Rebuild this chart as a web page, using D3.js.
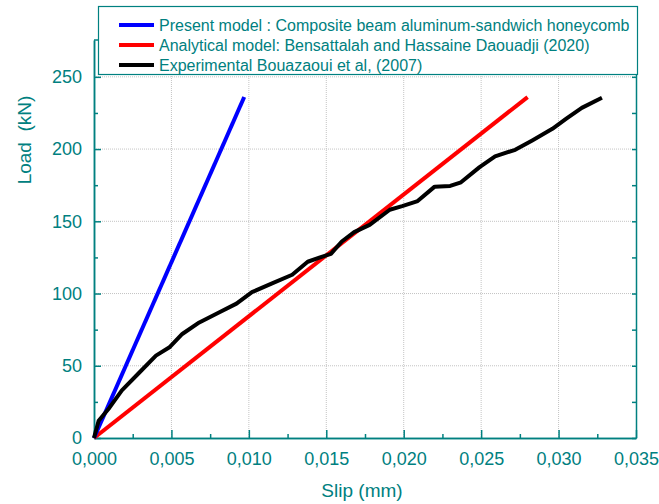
<!DOCTYPE html>
<html>
<head>
<meta charset="utf-8">
<script src="https://cdn.jsdelivr.net/npm/d3@7"></script>
<style>
  body { margin: 0; background: #fff; }
  text { font-family: "Liberation Sans", Arial, sans-serif; fill: #008080; }
</style>
</head>
<body>
<div class="chart"></div>
<script>
var svgWidth = 659;
var svgHeight = 504;

var margin = { top: 40, right: 23, bottom: 66, left: 94 };
var width = svgWidth - margin.left - margin.right;
var height = svgHeight - margin.top - margin.bottom;

var teal = "#008080";

// data
var seriesNames = [
  "Present model : Composite beam aluminum-sandwich honeycomb",
  "Analytical model: Bensattalah and Hassaine Daouadji (2020)",
  "Experimental Bouazaoui et al, (2007)"
];
var seriesColors = ["#0000ff", "#ff0000", "#000000"];

var presentSlip = [0, 0.0097];
var presentLoad = [0, 236];

var analyticalSlip = [0, 0.028];
var analyticalLoad = [0, 236];

var expSlip = [0, 0.0003, 0.001, 0.0018, 0.0029, 0.004, 0.0049, 0.0057, 0.0068, 0.0081,
  0.0092, 0.0102, 0.0115, 0.0128, 0.0138, 0.0146, 0.0153, 0.016, 0.0168, 0.0178,
  0.0191, 0.0199, 0.0209, 0.022, 0.023, 0.0237, 0.0249, 0.0259, 0.0272, 0.0283,
  0.0296, 0.0305, 0.0315, 0.0328];
var expLoad = [0, 12, 21, 33, 45, 57, 63, 72, 80, 87,
  93, 101, 107, 113, 122, 125, 127.5, 136, 142.5, 147.5,
  158, 160.5, 164, 174, 174.5, 177, 187.5, 195, 199.5, 206,
  214, 221, 228.5, 235.5];

var xTicks = [0, 0.005, 0.01, 0.015, 0.02, 0.025, 0.03, 0.035];
var yTicks = [0, 50, 100, 150, 200, 250];

function zip(xs, ys) {
  return xs.map(function(x, i) { return { x: x, y: ys[i] }; });
}
var series = [zip(presentSlip, presentLoad), zip(analyticalSlip, analyticalLoad), zip(expSlip, expLoad)];

var svg = d3.select(".chart").append("svg")
  .attr("width", svgWidth)
  .attr("height", svgHeight);

var chart = svg.append("g")
  .attr("transform", "translate(" + margin.left + "," + margin.top + ")");

var x = d3.scaleLinear().domain([0, 0.035]).range([0, width]);
var y = d3.scaleLinear().domain([0, 275.5]).range([height, 0]);

var fmt = function(d) { return d3.format(".3f")(d).replace(".", ","); };

// grid
chart.append("g").selectAll("line").data(xTicks.slice(1, -1)).enter().append("line")
  .attr("x1", function(d) { return x(d); }).attr("x2", function(d) { return x(d); })
  .attr("y1", 0).attr("y2", height)
  .attr("stroke", "#c4c4c4").attr("stroke-dasharray", "1,1");
chart.append("g").selectAll("line").data(yTicks.slice(1)).enter().append("line")
  .attr("y1", function(d) { return y(d); }).attr("y2", function(d) { return y(d); })
  .attr("x1", 0).attr("x2", width)
  .attr("stroke", "#c4c4c4").attr("stroke-dasharray", "1,1");

// minor ticks
var xMinor = d3.range(0.0025, 0.035, 0.005);
var yMinor = d3.range(25, 275, 50);

var bottomAxis = d3.axisBottom(x).tickValues(xTicks).tickFormat(fmt).tickSizeInner(-8).tickSizeOuter(0).tickPadding(14);
var bottomMinor = d3.axisBottom(x).tickValues(xMinor).tickFormat("").tickSizeInner(-4).tickSizeOuter(0);
var leftAxis = d3.axisLeft(y).tickValues(yTicks).tickSizeInner(-7).tickSizeOuter(0).tickPadding(12);
var leftMinor = d3.axisLeft(y).tickValues(yMinor).tickFormat("").tickSizeInner(-4).tickSizeOuter(0);
var rightAxis = d3.axisRight(y).tickValues(yTicks.concat(yMinor)).tickFormat("").tickSizeInner(-4).tickSizeOuter(0);

function styleAxis(g) {
  g.selectAll("path, line").attr("stroke", teal).attr("stroke-width", 1.5);
  g.selectAll("text").attr("fill", teal).style("font-size", "18px").attr("font-family", null);
}

chart.append("g").attr("transform", "translate(0," + height + ")").call(bottomAxis).call(styleAxis);
chart.append("g").attr("transform", "translate(0," + height + ")").call(bottomMinor).call(styleAxis);
chart.append("g").call(leftAxis).call(styleAxis);
chart.append("g").call(leftMinor).call(styleAxis);
chart.append("g").attr("transform", "translate(" + width + ",0)").call(rightAxis).call(styleAxis);
chart.append("line").attr("x1", 0).attr("x2", width).attr("y1", 0).attr("y2", 0)
  .attr("stroke", teal).attr("stroke-width", 1.5);

// lines
var line = d3.line().x(function(d) { return x(d.x); }).y(function(d) { return y(d.y); });
var drawOrder = [1, 0, 2];
drawOrder.forEach(function(i) {
  chart.append("path").datum(series[i])
    .attr("d", line)
    .attr("fill", "none")
    .attr("stroke", seriesColors[i])
    .attr("stroke-width", 4)
    .attr("stroke-linejoin", "round");
});

// axis titles
svg.append("text")
  .attr("x", margin.left + width / 2 - 3)
  .attr("y", 497)
  .attr("text-anchor", "middle")
  .style("font-size", "19px")
  .text("Slip (mm)");

svg.append("text")
  .attr("transform", "translate(31,140) rotate(-90)")
  .attr("text-anchor", "middle")
  .style("font-size", "19px")
  .style("white-space", "pre")
  .text("Load  (kN)");

// legend
var legend = svg.append("g");
legend.append("rect")
  .attr("x", 98.5).attr("y", 6.5).attr("width", 539).attr("height", 68)
  .attr("fill", "#fff").attr("stroke", teal).attr("stroke-width", 1.2);

seriesNames.forEach(function(name, i) {
  var ly = 25 + i * 20;
  legend.append("line")
    .attr("x1", 119).attr("x2", 154).attr("y1", ly).attr("y2", ly)
    .attr("stroke", seriesColors[i]).attr("stroke-width", 4);
  legend.append("text")
    .attr("x", 159).attr("y", ly + 6)
    .style("font-size", "16px")
    .text(name);
});
</script>
</body>
</html>
